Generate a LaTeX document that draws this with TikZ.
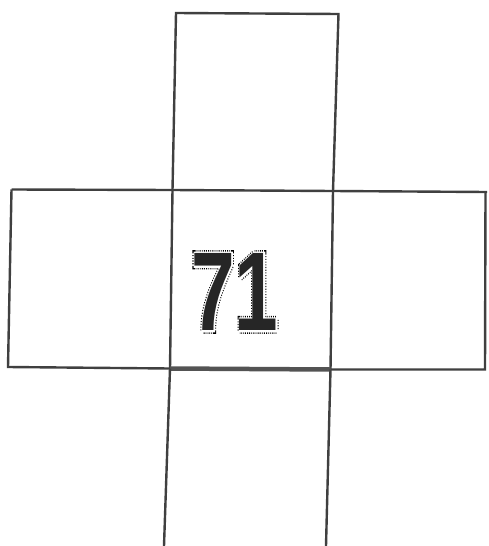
\documentclass[tikz,border=0pt]{standalone}
\usepackage{fontspec}
\setmainfont{Liberation Sans}
\definecolor{linegray}{RGB}{64,64,64}
\tikzset{edge/.style={draw=linegray,line width=2.4pt,line join=miter},
         thickedge/.style={draw=linegray!90,line width=4.5pt}}
\newcommand{\strokeon}[2]{\special{pdf:literal direct 1 Tr #1 w #2 0 d}}
\newcommand{\strokeoff}{\special{pdf:literal direct 0 Tr 1 w [] 0 d}}
\newcommand{\digitsfont}{\fontsize{112}{112}\selectfont\bfseries}
\begin{document}
\begin{tikzpicture}[x=1pt,y=-1pt]
\useasboundingbox (0,0) rectangle (488,546);
\fill[white] (0,0) rectangle (488,546);
% corner coordinates
\coordinate (t1) at (176,13);
\coordinate (t2) at (338.5,14);
\coordinate (t3) at (333,191);
\coordinate (t4) at (172.5,190);
\coordinate (l1) at (11.5,189.5);
\coordinate (l2) at (8,367);
\coordinate (c3) at (330.5,369.5);
\coordinate (c4) at (170,368.5);
\coordinate (r1) at (487,192);
\coordinate (r2) at (485.5,192);
\coordinate (r3) at (485,369.5);
\coordinate (b3) at (326,546);
\coordinate (b4) at (164,546);
% top box
\draw[edge] (t4) -- (t1) -- (t2) -- (t3);
% middle row top line
\draw[edge] (l1) -- (t4) -- (t3) -- (r1);
% left box
\draw[edge] (l1) -- (l2) -- (c4);
% center vertical lines
\draw[edge] (t4) -- (c4);
\draw[edge] (t3) -- (c3);
% right box
\draw[edge] (r2) -- (r3) -- (c3);
% center bottom thick edge
\draw[thickedge] (c4) -- (c3);
% bottom box
\draw[edge] (c4) -- (b4);
\draw[edge] (c3) -- (b3);
% digits with dotted outline
\node[anchor=base,inner sep=0pt,text=black] (d1) at (235,330.5)
  {\scalebox{0.70}[1]{\digitsfont\strokeon{6.5}{[1.1 1.6]}71\strokeoff}};
\node[anchor=base,inner sep=0pt,text=white] (d2) at (235,330.5)
  {\scalebox{0.70}[1]{\digitsfont\strokeon{3.6}{[]}71\strokeoff}};
\node[anchor=base,inner sep=0pt,text=black!85] (d3) at (235,330.5)
  {\scalebox{0.70}[1]{\digitsfont 71}};
\end{tikzpicture}
\end{document}
